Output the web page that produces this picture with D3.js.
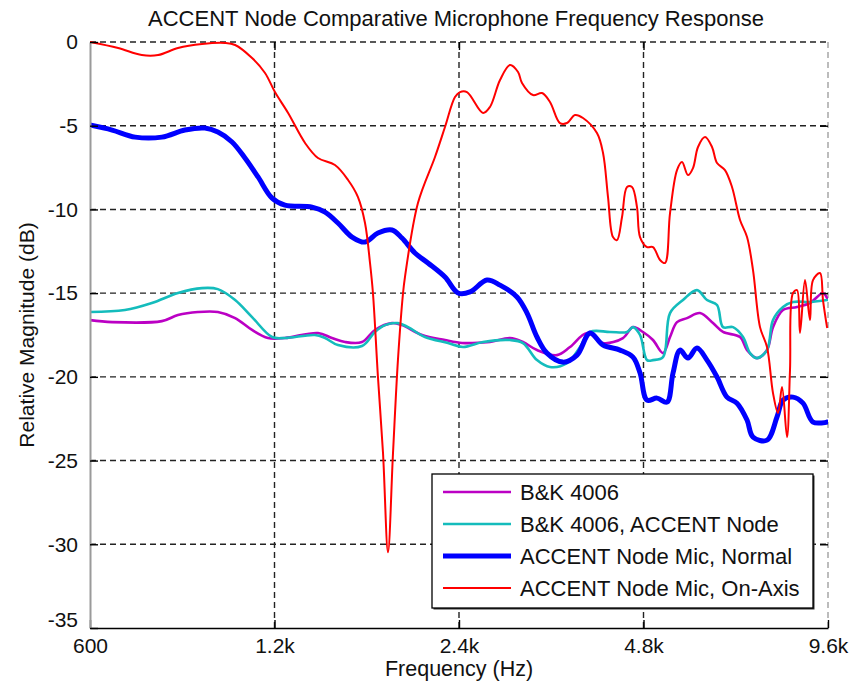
<!DOCTYPE html>
<html>
<head>
<meta charset="utf-8">
<script src="https://cdn.jsdelivr.net/npm/d3@7/dist/d3.min.js"></script>
<style>
  html, body { margin: 0; padding: 0; background: #fff; }
  svg { display: block; font-family: "Liberation Sans", Arial, Helvetica, sans-serif; }
</style>
</head>
<body>
<svg id="chart" width="854" height="690"></svg>
<script>
// Axis ticks
const xTicks = [600, 1200, 2400, 4800, 9600];
const xTickLabels = ["600", "1.2k", "2.4k", "4.8k", "9.6k"];
const yTicks = [0, -5, -10, -15, -20, -25, -30, -35];

// Series names (legend order = draw order)
const seriesNames = ["B&K 4006", "B&K 4006, ACCENT Node", "ACCENT Node Mic, Normal", "ACCENT Node Mic, On-Axis"];

// B&K 4006 reference mic
const bkFreq = [600,652,786,835,900,970,1035,1103,1171,1248,1413,1489,1564,1667,1750,1866,1937,2089,2277,2427,2501,2696,2907,3052,3217,3468,3642,3882,4123,4444,4614,4791,4974,5165,5303,5444,5652,5935,6232,6471,6898,7082,7352,7634,7808,8107,8545,8972,9421,9564];
const bkDb = [-16.61,-16.73,-16.67,-16.31,-16.13,-16.13,-16.49,-17.2,-17.68,-17.68,-17.38,-17.68,-17.92,-17.92,-17.2,-16.79,-16.91,-17.5,-17.8,-17.98,-17.98,-17.92,-17.68,-17.92,-18.4,-18.7,-18.22,-17.38,-17.98,-17.68,-17.03,-17.32,-17.8,-18.58,-17.62,-16.73,-16.49,-16.19,-16.79,-17.32,-17.62,-18.4,-18.88,-18.4,-17.03,-16.01,-15.83,-15.59,-14.99,-15.29];

// B&K 4006 mounted in the ACCENT node
const bkNodeFreq = [600,684,757,835,914,970,1035,1103,1189,1248,1397,1451,1523,1667,1750,1818,1908,1982,2112,2303,2436,2627,2907,3052,3217,3378,3601,3781,3926,4232,4512,4614,4738,4864,4974,5165,5303,5568,5868,6093,6327,6471,6719,6976,7162,7352,7634,7808,8107,8417,8972,9564];
const bkNodeDb = [-16.13,-16.01,-15.59,-14.99,-14.7,-14.76,-15.41,-16.43,-17.62,-17.68,-17.5,-17.68,-18.1,-18.16,-17.32,-16.91,-16.79,-17.03,-17.62,-17.98,-18.22,-17.92,-17.8,-17.98,-19.0,-19.41,-19.18,-18.22,-17.32,-17.32,-17.32,-17.03,-17.5,-19.0,-19.0,-18.82,-16.19,-15.41,-14.82,-15.41,-15.71,-17.03,-17.03,-17.62,-18.58,-18.88,-18.4,-16.61,-15.83,-15.53,-15.53,-15.41];

// Node mic, normal incidence
const normalFreq = [600,652,711,786,857,924,970,1023,1074,1128,1189,1248,1382,1451,1523,1606,1686,1770,1866,1937,2034,2136,2277,2391,2501,2666,2800,2984,3099,3217,3340,3547,3739,3926,4123,4395,4614,4738,4864,5050,5243,5363,5506,5673,5868,6093,6327,6568,6820,7082,7243,7634,7926,8107,8417,8739,9074,9564];
const normalDb = [-4.96,-5.26,-5.68,-5.68,-5.26,-5.14,-5.38,-5.97,-6.93,-8.06,-9.32,-9.74,-9.86,-10.16,-10.81,-11.65,-11.95,-11.41,-11.23,-11.71,-12.6,-13.2,-14.04,-14.99,-14.93,-14.22,-14.52,-15.23,-16.19,-17.62,-18.58,-19.12,-18.7,-17.38,-18.1,-18.4,-18.82,-19.77,-21.39,-21.27,-21.51,-19.77,-18.4,-18.88,-18.28,-19.0,-20.01,-21.21,-21.57,-22.58,-23.6,-23.78,-22.4,-21.39,-21.21,-21.57,-22.7,-22.7];

// Node mic, on-axis
const onAxisFreq = [600,667,729,775,835,914,996,1035,1103,1158,1202,1263,1346,1413,1506,1582,1642,1686,1718,1737,1770,1804,1838,1873,1908,1945,1959,2057,2193,2277,2364,2409,2473,2627,2696,2800,2907,2996,3041,3169,3278,3378,3507,3601,3711,3824,4030,4123,4201,4280,4345,4428,4512,4597,4684,4738,4864,4974,5107,5204,5303,5444,5547,5673,5781,5891,6048,6209,6327,6519,6693,6898,7082,7243,7436,7634,7808,7956,8077,8230,8323,8417,8545,8641,8805,8972,9074,9316,9421,9564];
const onAxisDb = [0,-0.36,-0.78,-0.78,-0.36,-0.12,-0.06,-0.18,-0.96,-1.85,-2.99,-4.24,-6.03,-6.93,-7.35,-8.24,-9.26,-10.81,-13.2,-14.99,-20.01,-24.55,-30.47,-24.55,-19.0,-14.99,-14.04,-9.62,-6.87,-5.08,-3.29,-2.99,-2.99,-4.24,-3.88,-2.27,-1.37,-1.79,-2.45,-3.17,-3.05,-3.58,-4.84,-4.84,-4.36,-4.54,-5.44,-6.63,-9.26,-11.65,-11.83,-10.45,-8.66,-8.66,-9.86,-11.65,-12.25,-12.25,-13.02,-13.2,-10.22,-7.65,-7.17,-7.95,-7.53,-6.27,-5.68,-6.27,-7.23,-7.65,-8.66,-10.63,-11.65,-13.62,-17.03,-18.22,-20.97,-22.16,-20.61,-23.6,-19.59,-14.99,-14.82,-17.38,-14.22,-16.61,-14.22,-13.8,-15.41,-17.03];

const series = [
  { name: seriesNames[0], freq: bkFreq, db: bkDb, color: "#bb00c4", width: 2.6 },
  { name: seriesNames[1], freq: bkNodeFreq, db: bkNodeDb, color: "#14bcbc", width: 2.6 },
  { name: seriesNames[2], freq: normalFreq, db: normalDb, color: "#0000ff", width: 5 },
  { name: seriesNames[3], freq: onAxisFreq, db: onAxisDb, color: "#ff0000", width: 2 }
];

const svg = d3.select("#chart");
const margin = { left: 90, right: 26, top: 42, bottom: 62 };
const W = 854, H = 690;
const x0 = margin.left, x1 = W - margin.right, y0 = margin.top, y1 = H - margin.bottom;

const x = d3.scaleLog().domain([600, 9600]).range([x0, x1]);
const y = d3.scaleLinear().domain([-35, 0]).range([y1, y0]);

// Dashed grid
const grid = svg.append("g").attr("fill", "none").attr("stroke-width", 1.4).attr("stroke-dasharray", "6,4");
grid.selectAll("line.gx").data(xTicks.slice(1)).join("line")
  .attr("x1", d => x(d)).attr("x2", d => x(d)).attr("y1", y0).attr("y2", y1)
  .attr("stroke", d => d === 9600 ? "#a0a0a0" : "#222");
grid.selectAll("line.gy").data(yTicks.filter(d => d > -35)).join("line")
  .attr("x1", x0).attr("x2", x1).attr("y1", d => y(d)).attr("y2", d => y(d))
  .attr("stroke", "#222");

// Curves
svg.append("clipPath").attr("id", "plotClip").append("rect")
  .attr("x", x0).attr("y", y0 - 4).attr("width", x1 - x0).attr("height", y1 - y0 + 4);

const line = d3.line().x(d => x(d[0])).y(d => y(d[1])).curve(d3.curveCatmullRom.alpha(0.5));
const curves = svg.append("g").attr("clip-path", "url(#plotClip)");
series.forEach(s => {
  curves.append("path")
    .datum(s.freq.map((f, i) => [f, s.db[i]]))
    .attr("fill", "none")
    .attr("stroke", s.color)
    .attr("stroke-width", s.width)
    .attr("stroke-linejoin", "round")
    .attr("stroke-linecap", "round")
    .attr("d", line);
});

// Axes
const tickFont = 21;
const xAxis = svg.append("g").attr("transform", `translate(0,${y1})`)
  .call(d3.axisBottom(x).tickValues(xTicks).tickFormat((d, i) => xTickLabels[i])
    .tickSizeInner(-8).tickSizeOuter(0).tickPadding(10));
xAxis.attr("font-family", null);
xAxis.select(".domain").attr("stroke", "#000").attr("stroke-width", 1.6);
xAxis.selectAll(".tick line").attr("stroke", "#000").attr("stroke-width", 1.4);
xAxis.selectAll(".tick text").attr("font-size", tickFont).attr("fill", "#111");

const yAxis = svg.append("g").attr("transform", `translate(${x0},0)`)
  .call(d3.axisLeft(y).tickValues(yTicks).tickFormat(d => String(d))
    .tickSizeInner(-8).tickSizeOuter(0).tickPadding(12));
yAxis.attr("font-family", null);
yAxis.select(".domain").attr("stroke", "#9a9a9a").attr("stroke-width", 2);
yAxis.selectAll(".tick line").attr("stroke", "#000").attr("stroke-width", 1.4);
yAxis.selectAll(".tick text").attr("font-size", tickFont).attr("fill", "#111")
  .attr("dy", d => d === -35 ? "-0.05em" : "0.32em");

// Top and right tick marks
const topAxis = svg.append("g").attr("transform", `translate(0,${y0})`)
  .call(d3.axisTop(x).tickValues(xTicks.slice(1, -1)).tickFormat("").tickSizeInner(-8).tickSizeOuter(0));
topAxis.select(".domain").remove();
topAxis.selectAll(".tick line").attr("stroke", "#000").attr("stroke-width", 1.4);
const rightAxis = svg.append("g").attr("transform", `translate(${x1},0)`)
  .call(d3.axisRight(y).tickValues(yTicks.slice(1, -1)).tickFormat("").tickSizeInner(-8).tickSizeOuter(0));
rightAxis.select(".domain").remove();
rightAxis.selectAll(".tick line").attr("stroke", "#000").attr("stroke-width", 1.4);

// Titles
svg.append("text").attr("x", (x0 + x1) / 2 - 3).attr("y", 26)
  .attr("text-anchor", "middle").attr("font-size", 22).attr("fill", "#111")
  .text("ACCENT Node Comparative Microphone Frequency Response");
svg.append("text").attr("x", (x0 + x1) / 2).attr("y", 676)
  .attr("text-anchor", "middle").attr("font-size", 21.5).attr("fill", "#111")
  .text("Frequency (Hz)");
svg.append("text").attr("transform", `translate(34,${(y0 + y1) / 2}) rotate(-90)`)
  .attr("text-anchor", "middle").attr("font-size", 21).attr("fill", "#111")
  .text("Relative Magnitude (dB)");

// Legend
const lg = { x: 432, y: 474, w: 381, h: 134 };
const legend = svg.append("g");
legend.append("rect").attr("x", lg.x + 1.5).attr("y", lg.y + 1.5).attr("width", lg.w).attr("height", lg.h).attr("fill", "#333");
legend.append("rect").attr("x", lg.x).attr("y", lg.y).attr("width", lg.w).attr("height", lg.h)
  .attr("fill", "#fff").attr("stroke", "#000").attr("stroke-width", 1.3);
const rowY = d3.scalePoint().domain(seriesNames).range([lg.y + 18, lg.y + 114]);
series.forEach(s => {
  const ry = rowY(s.name);
  legend.append("line").attr("x1", lg.x + 11).attr("x2", lg.x + 79).attr("y1", ry).attr("y2", ry)
    .attr("stroke", s.color).attr("stroke-width", s.width);
  legend.append("text").attr("x", lg.x + 88).attr("y", ry).attr("dy", "0.36em")
    .attr("font-size", 22).attr("fill", "#111").text(s.name);
});
</script>
</body>
</html>
